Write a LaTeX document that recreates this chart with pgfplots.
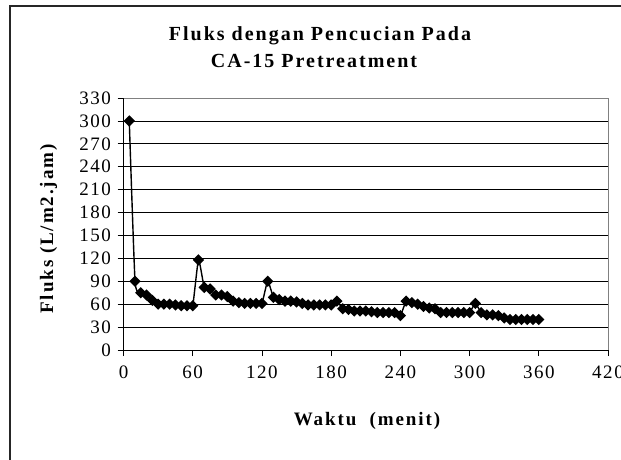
\documentclass[border=0pt]{standalone}
\usepackage{fontspec}
\setmainfont{Liberation Serif}
\newfontfamily\spaced[LetterSpace=10]{Liberation Serif}
\newfontfamily\tickfont[LetterSpace=8]{Liberation Serif}
\usepackage{pgfplots}
\pgfplotsset{compat=1.18}

\pgfplotstableread{
t f
5 300
10 90
15 75
20 72
25 65
30 60
35 60
40 60
45 59
50 58
55 58
60 58
65 118
70 82
75 80
80 72
85 72
90 70
95 64
100 62
105 61
110 61
115 61
120 61
125 90
130 69
135 66
140 64
145 64
150 63
155 61
160 59
165 59
170 59
175 59
180 59
185 64
190 54
195 53
200 51
205 51
210 51
215 50
220 49
225 49
230 49
235 49
240 45
245 64
250 62
255 60
260 57
265 55
270 54
275 49
280 49
285 49
290 49
295 49
300 49
305 61
310 49
315 46
320 46
325 45
330 42
335 40
340 40
345 40
350 40
355 40
360 40
}\fluks

\begin{document}
\begin{tikzpicture}[x=1pt,y=1pt]
\begin{axis}[
    at={(123.5pt,-350pt)}, anchor=south west,
    width=484.5pt, height=252pt, scale only axis,
    xmin=0, xmax=420, ymin=0, ymax=330,
    xtick={0,60,...,420}, ytick={0,30,...,330},
    axis lines*=left,
    axis line style={black, line width=0.9pt},
    tick align=outside, major tick length=6pt,
    tick style={black, line width=0.8pt},
    ymajorgrids, major grid style={black, line width=0.7pt},
    /pgf/number format/assume math mode=true,
    ticklabel style={font=\tickfont\fontsize{19}{19}\selectfont},
    yticklabel style={xshift=-3pt},
    xticklabel style={yshift=-6pt},
    clip=false,
]
\draw[gray, line width=1pt] (rel axis cs:0,1) -- (rel axis cs:1,1) -- (rel axis cs:1,0);
\addplot[black, line width=1.4pt, smooth, tension=0.3,
    mark=square*, mark size=3.3pt, mark options={solid, fill=black, rotate=45}]
    table[x=t, y=f] {\fluks};
\end{axis}
\draw[line width=1.2pt, black!85] (10,-470) -- (10,-6) -- (640,-6);
\node[anchor=base, font=\spaced\bfseries\fontsize{20}{20}\selectfont] at (320,-41) {Fluks dengan Pencucian Pada};
\node[anchor=base, font=\spaced\bfseries\fontsize{20}{20}\selectfont] at (314,-67) {CA-15 Pretreatment};
\node[anchor=base, font=\spaced\bfseries\fontsize{19}{19}\selectfont] at (367,-425) {Waktu\ \ (menit)};
\node[anchor=base, rotate=90, font=\spaced\bfseries\fontsize{19}{19}\selectfont] at (53,-229) {Fluks (L/m2.jam)};
\pgfresetboundingbox
\useasboundingbox (0,0) rectangle (621,-460);
\end{tikzpicture}
\end{document}
